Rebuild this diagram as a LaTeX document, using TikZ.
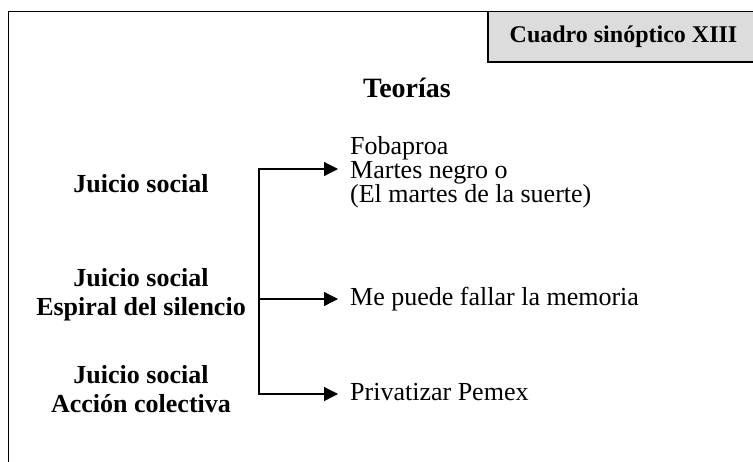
\documentclass[tikz,border=0pt]{standalone}
\usepackage{fontspec}
\setmainfont{Liberation Serif}
\usetikzlibrary{arrows.meta}
\definecolor{boxgray}{RGB}{220,220,220}
\newcommand{\bodyfont}{\fontsize{26pt}{30pt}\selectfont\rmfamily\mdseries}
\begin{document}
\begin{tikzpicture}[x=1pt,y=-1pt,
  lbl/.style={font=\fontsize{26}{30}\selectfont\bfseries, inner sep=0pt, anchor=base},
  rtext/.style={font=\bodyfont, inner sep=0pt, anchor=base west},
  arr/.style={line width=1.3pt, -{Triangle[length=14pt,width=14pt]}},
  brk/.style={line width=1.3pt, {Triangle[length=14pt,width=14pt]}-{Triangle[length=14pt,width=14pt]}},
  framel/.style={line width=1.5pt},
  cbox/.style={draw, line width=1.3pt, fill=boxgray, minimum width=271pt, minimum height=50.5pt, inner sep=0pt,
    font=\fontsize{24}{28}\selectfont\bfseries}]
\useasboundingbox (0,0) rectangle (753,461);
% title box and frame
\node[cbox] (cuadro) at (623.5,36.75) {Cuadro sinóptico XIII};
\coordinate (fbot) at (8.5,475);
\coordinate (ftl) at (8.5,11.5);
\draw[framel] (fbot) -- (ftl) -- (ftl -| cuadro.west);
% heading
\node[font=\fontsize{28}{32}\selectfont\bfseries, inner sep=0pt, anchor=base] (teo) at (407,97) {Teorías};
% left labels
\node[lbl] (l1) at (141,192) {Juicio social};
\node[lbl] (l2a) at (141,286) {Juicio social};
\node[lbl] (l2b) at (141,315) {Espiral del silencio};
\node[lbl] (l3a) at (141,383) {Juicio social};
\node[lbl] (l3b) at (141,412) {Acción colectiva};
% right texts
\node[rtext] (fob) at (350,154) {Fobaproa};
\node[rtext] (mar) at (350,178) {Martes negro o};
\node[rtext] (sue) at (350,202) {(El martes de la suerte)};
\node[rtext] (mem) at (350,305) {Me puede fallar la memoria};
\node[rtext] (pem) at (350,400) {Privatizar Pemex};
% bracket
\coordinate (j1) at (259,169);
\coordinate (j2) at (259,299);
\coordinate (j3) at (259,394);
\coordinate (t1) at (338,169);
\coordinate (t2) at (338,299);
\coordinate (t3) at (338,394);
\draw[brk] (t1) -- (j1) -- (j3) -- (t3);
\draw[arr] (j2) -- (t2);
\end{tikzpicture}
\end{document}
